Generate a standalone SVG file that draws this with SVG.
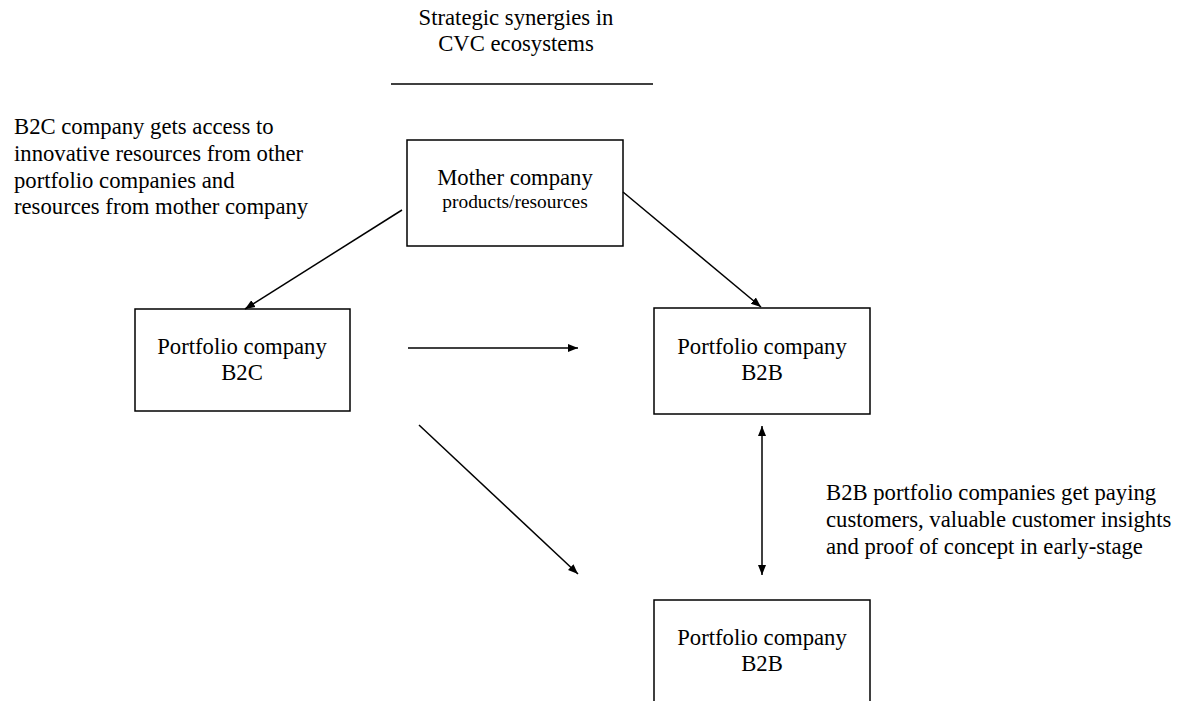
<svg xmlns="http://www.w3.org/2000/svg" width="1189" height="701" viewBox="0 0 1189 701">
<style>
text{font-family:"Liberation Serif","Times New Roman",serif;fill:#000;font-size:22.7px}
.c{text-anchor:middle}
.s{font-size:19.4px}
.box{fill:#fff;stroke:#000;stroke-width:1.5}
.ln{stroke:#000;stroke-width:1.5;fill:none}
</style>
<defs>
<marker id="ah" viewBox="0 0 10 10" refX="10" refY="5" markerWidth="10" markerHeight="10" markerUnits="userSpaceOnUse" orient="auto-start-reverse">
<path d="M0,1 L10,5 L0,9 Z" fill="#000"/>
</marker>
</defs>
<rect width="1189" height="701" fill="#fff"/>
<g id="title">
<text class="c" x="516" y="25">Strategic synergies in</text>
<text class="c" x="516" y="51">CVC ecosystems</text>
<line class="ln" x1="391" y1="84" x2="653" y2="84"/>
</g>
<g id="note-b2c">
<text x="14" y="134">B2C company gets access to</text>
<text x="14" y="161">innovative resources from other</text>
<text x="14" y="188">portfolio companies and</text>
<text x="14" y="214">resources from mother company</text>
</g>
<g id="note-b2b">
<text x="826" y="500">B2B portfolio companies get paying</text>
<text x="826" y="527">customers, valuable customer insights</text>
<text x="826" y="554">and proof of concept in early-stage</text>
</g>
<g id="mother">
<rect class="box" x="407" y="140" width="216" height="106"/>
<text class="c" x="515" y="185">Mother company</text>
<text class="c s" x="515" y="208">products/resources</text>
</g>
<g id="b2c">
<rect class="box" x="135" y="309" width="215" height="102"/>
<text class="c" x="242" y="354">Portfolio company</text>
<text class="c" x="242" y="380">B2C</text>
</g>
<g id="b2b-top">
<rect class="box" x="654" y="308" width="216" height="106"/>
<text class="c" x="762" y="354">Portfolio company</text>
<text class="c" x="762" y="380">B2B</text>
</g>
<g id="b2b-bottom">
<rect class="box" x="654" y="600" width="216" height="120"/>
<text class="c" x="762" y="645">Portfolio company</text>
<text class="c" x="762" y="671">B2B</text>
</g>
<g id="connectors">
<line class="ln" x1="402" y1="210" x2="245" y2="309" marker-end="url(#ah)"/>
<line class="ln" x1="623" y1="192" x2="761" y2="307" marker-end="url(#ah)"/>
<line class="ln" x1="408" y1="348" x2="578" y2="348" marker-end="url(#ah)"/>
<line class="ln" x1="419" y1="425" x2="578" y2="574" marker-end="url(#ah)"/>
<line class="ln" x1="762" y1="426" x2="762" y2="575" marker-start="url(#ah)" marker-end="url(#ah)"/>
</g>
</svg>
